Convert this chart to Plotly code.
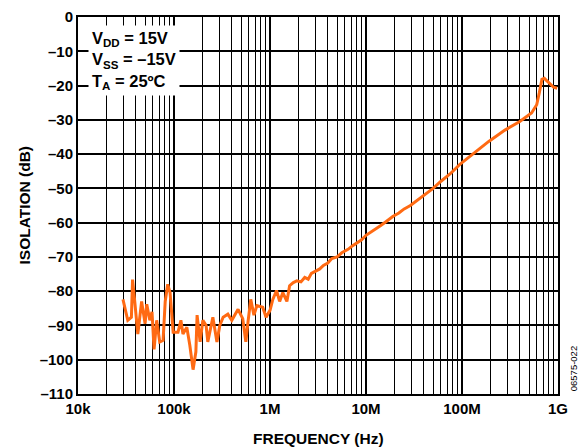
import plotly.graph_objects as go

freq_hz = [29.4e3, 33e3, 36e3, 37e3, 39e3, 42e3, 46e3, 50e3, 52e3, 56e3, 59e3, 62e3, 66e3, 71e3,
           77e3, 81e3, 86e3, 91e3, 98e3, 110e3, 118e3, 124e3, 136e3, 146e3, 158e3, 169e3, 174e3,
           187e3, 200e3, 216e3, 225e3, 254e3, 280e3, 300e3, 325e3, 364e3, 400e3, 465e3, 520e3,
           560e3, 590e3, 630e3, 680e3, 730e3, 840e3, 910e3, 1.0e6, 1.07e6, 1.17e6, 1.26e6, 1.36e6,
           1.5e6, 1.6e6, 1.75e6, 1.9e6, 2.1e6, 2.3e6, 2.5e6, 2.7e6, 3.0e6, 3.3e6, 3.6e6, 4.0e6,
           4.4e6, 5.0e6, 5.6e6, 6.5e6, 7.2e6, 8.0e6, 9.0e6, 10e6, 12e6, 14e6, 16e6, 19e6, 22e6,
           25e6, 29e6, 34e6, 40e6, 50e6, 60e6, 75e6, 95e6, 130e6, 190e6, 280e6, 400e6, 530e6,
           600e6, 640e6, 680e6, 720e6, 800e6, 900e6, 980e6]
isolation_db = [-82.4, -88.5, -87.6, -76.6, -83, -92.5, -83, -89.5, -83.8, -88.5, -86, -97, -88.5,
                -94.8, -94.3, -83, -78, -80.4, -92, -92, -88.5, -92.5, -90.5, -95.7, -102.9, -97.7,
                -87, -94.8, -88.5, -90, -94.8, -87.6, -94.8, -90, -87.6, -86.7, -88.5, -85.3, -88,
                -94.8, -89, -82.4, -87, -84.2, -84.7, -87.6, -85.6, -82.4, -79.8, -83, -80.4, -83,
                -78.4, -77.5, -77, -77.3, -76, -76.5, -74.8, -74, -73.5, -72.5, -71.8,
                -70.5, -70, -68.8, -67.8, -66.8, -66, -65, -63.7, -62.3, -61, -59.8, -58.2, -57.2,
                -56, -55, -53.6, -52, -50, -48, -45.8, -43, -40, -36.3, -33, -30.5, -28,
                -25.6, -22, -18.2, -17.9, -19, -20.5, -20.8]

y_ticks = [0, -10, -20, -30, -40, -50, -60, -70, -80, -90, -100, -110]
y_tick_text = ["0" if v == 0 else "\u2013" + str(-v) for v in y_ticks]
x_ticks = [1e4, 1e5, 1e6, 1e7, 1e8, 1e9]
x_tick_text = ["10k", "100k", "1M", "10M", "100M", "1G"]

font_family = "Liberation Sans, Arial, sans-serif"

fig = go.Figure()
fig.add_trace(go.Scatter(x=freq_hz, y=isolation_db, mode="lines",
                         line=dict(color="#FF6A13", width=3), showlegend=False))

# page body has an 8px default margin, so the figure is sized to fit the window
fig.update_layout(
    width=578, height=440,
    margin=dict(l=70, r=28, t=9, b=54),
    paper_bgcolor="white", plot_bgcolor="white",
    font=dict(family=font_family, size=15, color="black"),
)
fig.update_xaxes(
    type="log", range=[4, 9], tickvals=x_ticks, ticktext=x_tick_text,
    showgrid=True, gridcolor="black", gridwidth=2,
    minor=dict(dtick="D1", showgrid=True, gridcolor="black", gridwidth=1.3, ticks=""),
    showline=True, linecolor="black", linewidth=2, mirror=True, ticks="",
    tickfont=dict(size=15, family=font_family, weight="bold"),
    automargin=False, zeroline=False, ticklabeloverflow="allow",
)
fig.update_yaxes(
    range=[-110, 0], tickvals=y_ticks, ticktext=y_tick_text,
    showgrid=True, gridcolor="black", gridwidth=1.5,
    showline=True, linecolor="black", linewidth=2, mirror=True, ticks="",
    tickfont=dict(size=15, family=font_family, weight="bold"),
    automargin=False, zeroline=False, ticklabeloverflow="allow",
)

fig.add_annotation(
    xref="paper", yref="paper", x=0.5, y=-0.117, xanchor="center", yanchor="middle",
    text="<b>FREQUENCY (Hz)</b>", showarrow=False,
    font=dict(size=15.5, family=font_family),
)
fig.add_annotation(
    xref="paper", yref="paper", x=-0.1125, y=0.5, xanchor="center", yanchor="middle",
    text="<b>ISOLATION (dB)</b>", textangle=-90, showarrow=False,
    font=dict(size=15.5, family=font_family),
)
fig.add_annotation(
    xref="paper", yref="paper", x=0.021, y=0.98, xanchor="left", yanchor="top",
    text="<b>V<sub>DD</sub> = 15V</b><br><b>V<sub>SS</sub> = \u201315V</b><br><b>T<sub>A</sub> = 25\u00baC</b>",
    align="left", showarrow=False, bgcolor="white", borderpad=3,
    font=dict(size=16.5, family=font_family),
)
fig.add_annotation(
    xref="paper", yref="paper", x=1.031, y=0.068, xanchor="center", yanchor="middle",
    text="06575-022", textangle=-90, showarrow=False,
    font=dict(size=9.5, family=font_family),
)

fig.write_html("out.html")
